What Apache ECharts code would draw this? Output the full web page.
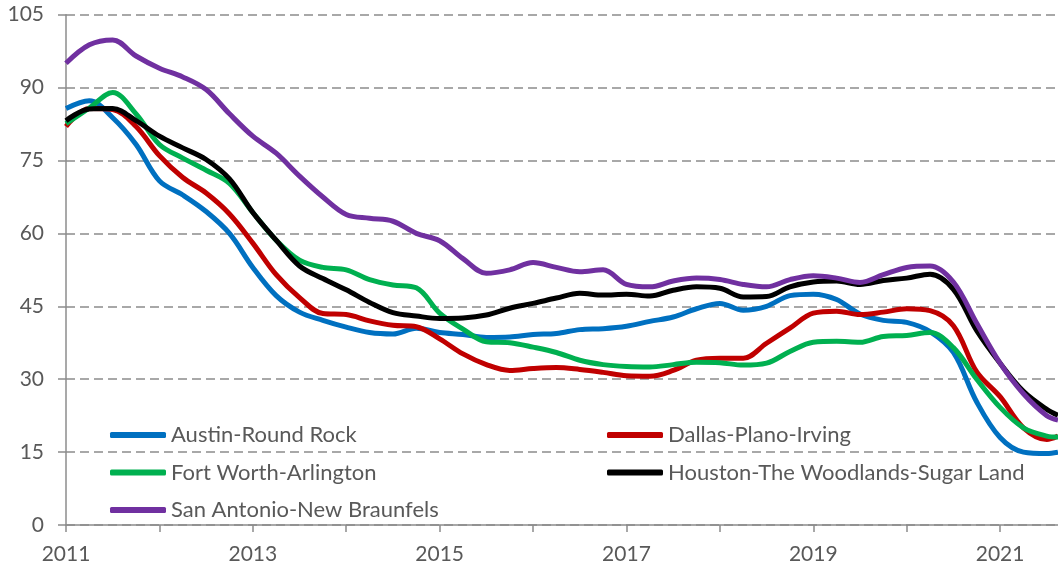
<!DOCTYPE html>
<html>
<head>
<meta charset="utf-8">
<script src="https://cdn.jsdelivr.net/npm/echarts@6/dist/echarts.min.js"></script>
<style>
  html, body { margin: 0; padding: 0; background: #fff; }
  #chart { width: 1058px; height: 569px; }
</style>
</head>
<body>
<div id="chart"></div>
<script>
// quarterly dates (decimal year), last point is the latest month
var dates = [2011, 2011.25, 2011.5, 2011.75, 2012, 2012.25, 2012.5, 2012.75,
  2013, 2013.25, 2013.5, 2013.75, 2014, 2014.25, 2014.5, 2014.75,
  2015, 2015.25, 2015.5, 2015.75, 2016, 2016.25, 2016.5, 2016.75,
  2017, 2017.25, 2017.5, 2017.75, 2018, 2018.25, 2018.5, 2018.75,
  2019, 2019.25, 2019.5, 2019.75, 2020, 2020.25, 2020.5, 2020.75,
  2021, 2021.25, 2021.5, 2021.62];

var names = ['Austin-Round Rock', 'Dallas-Plano-Irving', 'Fort Worth-Arlington',
  'Houston-The Woodlands-Sugar Land', 'San Antonio-New Braunfels'];

var austin = [85.7, 87.3, 83.8, 78.3, 70.8, 67.9, 64.5, 60.0,
  53.0, 47.2, 43.8, 42.1, 40.7, 39.6, 39.3, 40.5,
  39.6, 39.2, 38.6, 38.7, 39.2, 39.4, 40.2, 40.4,
  40.9, 41.9, 42.8, 44.5, 45.6, 44.2, 45.0, 47.2,
  47.5, 46.4, 43.4, 42.1, 41.7, 39.8, 35.5, 25.3,
  18.0, 15.0, 14.7, 15.0];

var dallas = [82.0, 85.7, 85.5, 82.0, 76.0, 71.5, 68.3, 64.0,
  58.0, 51.5, 46.8, 43.5, 43.3, 42.0, 41.1, 40.8,
  38.3, 35.2, 33.0, 31.8, 32.2, 32.4, 32.0, 31.4,
  30.7, 30.6, 31.8, 33.9, 34.3, 34.3, 37.4, 40.5,
  43.6, 44.0, 43.3, 43.8, 44.5, 44.1, 41.0, 31.5,
  26.4, 20.0, 17.6, 18.3];

var fortWorth = [82.6, 85.8, 89.0, 84.6, 78.3, 75.5, 73.0, 70.3,
  64.3, 58.6, 54.5, 53.0, 52.5, 50.5, 49.4, 48.8,
  43.6, 40.3, 37.7, 37.5, 36.6, 35.5, 33.9, 33.0,
  32.6, 32.5, 33.0, 33.5, 33.4, 32.9, 33.3, 35.7,
  37.6, 37.8, 37.6, 38.8, 39.0, 39.6, 36.5, 30.0,
  24.2, 20.0, 18.3, 18.1];

var houston = [83.2, 85.6, 85.7, 83.2, 80.0, 77.6, 75.2, 71.2,
  64.3, 58.6, 53.3, 50.7, 48.4, 45.8, 43.7, 43.0,
  42.5, 42.6, 43.2, 44.6, 45.6, 46.7, 47.7, 47.3,
  47.5, 47.1, 48.3, 49.0, 48.7, 46.9, 47.0, 49.0,
  50.0, 50.2, 49.5, 50.3, 50.8, 51.6, 48.5, 40.0,
  33.3, 27.5, 23.8, 22.6];

var sanAntonio = [95.0, 98.8, 99.8, 96.5, 94.0, 92.2, 89.6, 84.6,
  80.0, 76.5, 71.8, 67.5, 63.9, 63.1, 62.5, 60.0,
  58.5, 54.8, 51.8, 52.5, 54.0, 53.0, 52.1, 52.5,
  49.5, 49.0, 50.2, 50.8, 50.5, 49.5, 49.0, 50.5,
  51.3, 50.8, 49.9, 51.5, 53.0, 53.3, 50.0, 41.5,
  33.3, 27.0, 22.5, 21.6];

var values = [austin, dallas, fortWorth, houston, sanAntonio];
var colors = ['#0070C0', '#C00000', '#00B050', '#000000', '#7030A0'];

var yTicks = { min: 0, max: 105, interval: 15 };

var myChart = echarts.init(document.getElementById('chart'));

var font = 'Lato, "Open Sans", sans-serif';
var legendText = { color: '#595959', fontSize: 22, fontFamily: font, lineHeight: 22 };

var series = names.map(function (n, i) {
  return {
    name: n,
    type: 'line',
    smooth: 0.35,
    symbol: 'none',
    lineStyle: { width: 5, color: colors[i] },
    itemStyle: { color: colors[i] },
    data: dates.map(function (d, j) { return [d, values[i][j]]; })
  };
});

var option = {
  animation: false,
  grid: { left: 66, right: 0, top: 14.7, bottom: 44 },
  legend: [
    {
      orient: 'vertical', left: 105, top: 419, itemGap: 15.5,
      itemWidth: 56, itemHeight: 6, icon: 'roundRect',
      textStyle: legendText,
      data: [names[0], names[2], names[4]]
    },
    {
      orient: 'vertical', left: 602, top: 419, itemGap: 15.5,
      itemWidth: 56, itemHeight: 6, icon: 'roundRect',
      textStyle: legendText,
      data: [names[1], names[3]]
    }
  ],
  xAxis: {
    type: 'value',
    min: 2011,
    max: 2021.62,
    interval: 1,
    axisLine: { lineStyle: { color: '#8c8c8c', width: 1.5 } },
    axisTick: { show: true, length: 7, lineStyle: { color: '#8c8c8c', width: 1.5 } },
    axisLabel: {
      color: '#595959', fontSize: 21, fontFamily: font, margin: 19,
      showMaxLabel: false,
      formatter: function (v) { return (Math.round(v) === v && (v - 2011) % 2 === 0) ? String(v) : ''; }
    },
    splitLine: { show: false }
  },
  yAxis: {
    type: 'value',
    min: yTicks.min,
    max: yTicks.max,
    interval: yTicks.interval,
    axisLine: { show: true, lineStyle: { color: '#8c8c8c', width: 1.5 } },
    axisTick: { show: true, length: 8, lineStyle: { color: '#8c8c8c', width: 1.5 } },
    axisLabel: { color: '#595959', fontSize: 21, fontFamily: font, margin: 22 },
    splitLine: { show: true, lineStyle: { color: '#8c8c8c', width: 1.5, type: [9, 5] } }
  },
  series: series
};

myChart.setOption(option);
</script>
</body>
</html>
